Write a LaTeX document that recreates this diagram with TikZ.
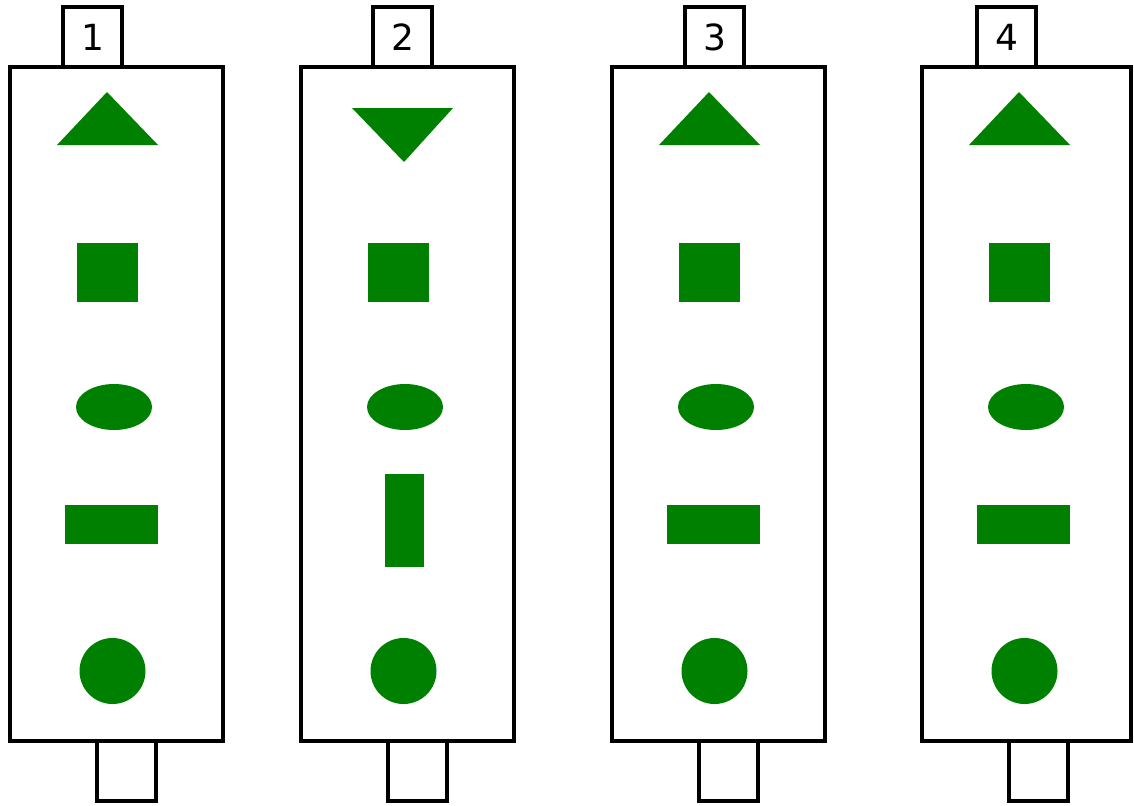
\documentclass[tikz,border=0pt]{standalone}
\usepackage{fontspec}
\setmainfont{DejaVu Sans}
\usetikzlibrary{positioning}
\definecolor{shapegreen}{RGB}{0,128,0}

\begin{document}
\begin{tikzpicture}[x=0.5pt,y=-0.5pt,line width=1.6pt]
	\tikzset{panel/.style={draw,minimum height=337pt,inner sep=0pt,outer sep=0pt,anchor=north west},
		tab/.style={draw,minimum width=29.5pt,minimum height=30pt,inner sep=0pt,outer sep=0pt,font=\fontsize{18}{20}\selectfont},
		token/.style={fill=shapegreen}}
	\useasboundingbox (0,0) rectangle (1134,805);
	\foreach \n/\x/\t/\w in {1/10/53/106.5,2/301/72/106.5,3/612/73/106.5,4/922/55/104.5}{
		\node (panel\n) [panel,minimum width=\w pt] at (\x,67) {};
		\node (top\n) [tab,anchor=south west] at (\x+\t,67) {\n};
		\node (bot\n) [tab,anchor=north west] at (\x+87,741) {};
		\begin{scope}[shift={(\x,0)}]
			\fill[token] (67,243) rectangle (128,302);
			\fill[token] (104,407) ellipse [x radius=19pt,y radius=11.5pt];
			\fill[token] (102.5,671) circle [radius=16.5pt];
			\ifnum\n=2
				\fill[token] (51,108) -- (152,108) -- (103,162) -- cycle;
				\fill[token] (84,474) rectangle (123,567);
			\else
				\fill[token] (47,145) -- (97,92) -- (148,145) -- cycle;
				\fill[token] (55,505) rectangle (148,544);
			\fi
		\end{scope}
	}
\end{tikzpicture}
\end{document}
